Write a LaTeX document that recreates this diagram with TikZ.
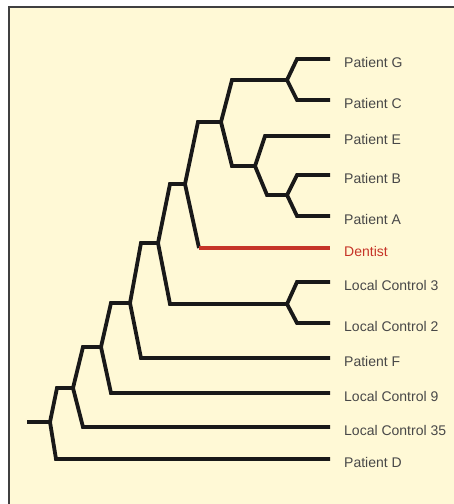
\documentclass[tikz,border=0pt]{standalone}
\usepackage{fontspec}
\setmainfont{Liberation Sans}
\definecolor{paper}{RGB}{255,249,214}
\definecolor{labelgray}{RGB}{72,72,72}
\definecolor{dentred}{RGB}{198,52,40}
\tikzset{
  branch/.style={line width=3.8pt, line join=miter, black!90},
  leaf/.style={anchor=base west, inner sep=0pt, text=labelgray, font=\fontsize{14}{16}\selectfont},
}

\begin{document}
\begin{tikzpicture}[x=1pt,y=-1pt]
\useasboundingbox (0,0) rectangle (454,504);
\fill[paper] (9,7) rectangle (454,504);
\draw[line width=1.2pt, black!75] (9,504) -- (9,7) -- (454,7);

% clusters: start of bar and the split point
\coordinate (root) at (27,422);  \coordinate (root-e) at (50,422);
\coordinate (n35) at (57,388);   \coordinate (n35-e) at (73,388);
\coordinate (n9) at (83,347);    \coordinate (n9-e) at (101,347);
\coordinate (nF) at (111,303);   \coordinate (nF-e) at (130,303);
\coordinate (nX) at (141,243);   \coordinate (nX-e) at (158,243);
\coordinate (nLC) at (170,304);  \coordinate (nLC-e) at (287,304);
\coordinate (nUD) at (170,184);  \coordinate (nUD-e) at (185,184);
\coordinate (nU) at (198,122);   \coordinate (nU-e) at (221,122);
\coordinate (nGC) at (232,80);   \coordinate (nGC-e) at (287,80);
\coordinate (nEBA) at (232,166); \coordinate (nEBA-e) at (255,166);
\coordinate (nBA) at (267,195);  \coordinate (nBA-e) at (287,195);

% leaves
\foreach \n/\x/\y/\t in {pG/297/59/Patient G, pC/297/100/Patient C, pE/265/136/Patient E,
    pB/297/175/Patient B, pA/297/216/Patient A, lc3/297/282/Local Control 3,
    lc2/297/323/Local Control 2, pF/141/358/Patient F, lc9/111/393/Local Control 9,
    lc35/83/427/Local Control 35, pD/56/459/Patient D} {
  \coordinate (\n) at (\x,\y);
  \coordinate (\n-e) at (330,\y);
  \node[leaf] (\n-l) at (344,\y+8) {\t};
}
\coordinate (dent) at (199,248);
\coordinate (dent-e) at (330,248);
\node[leaf, text=dentred] (dent-l) at (344,256) {Dentist};

\draw[branch] (root) -- (root-e);
\foreach \p/\c in {root/n35, root/pD, n35/n9, n35/lc35, n9/nF, n9/lc9, nF/nX, nF/pF,
    nX/nUD, nX/nLC, nLC/lc3, nLC/lc2, nUD/nU, nU/nGC, nU/nEBA, nGC/pG, nGC/pC,
    nEBA/pE, nEBA/nBA, nBA/pB, nBA/pA}
  \draw[branch] (\p-e) -- (\c) -- (\c-e);
\draw[branch] (nUD-e) -- (dent);
\draw[branch, dentred] (dent) -- (dent-e);
\end{tikzpicture}
\end{document}
